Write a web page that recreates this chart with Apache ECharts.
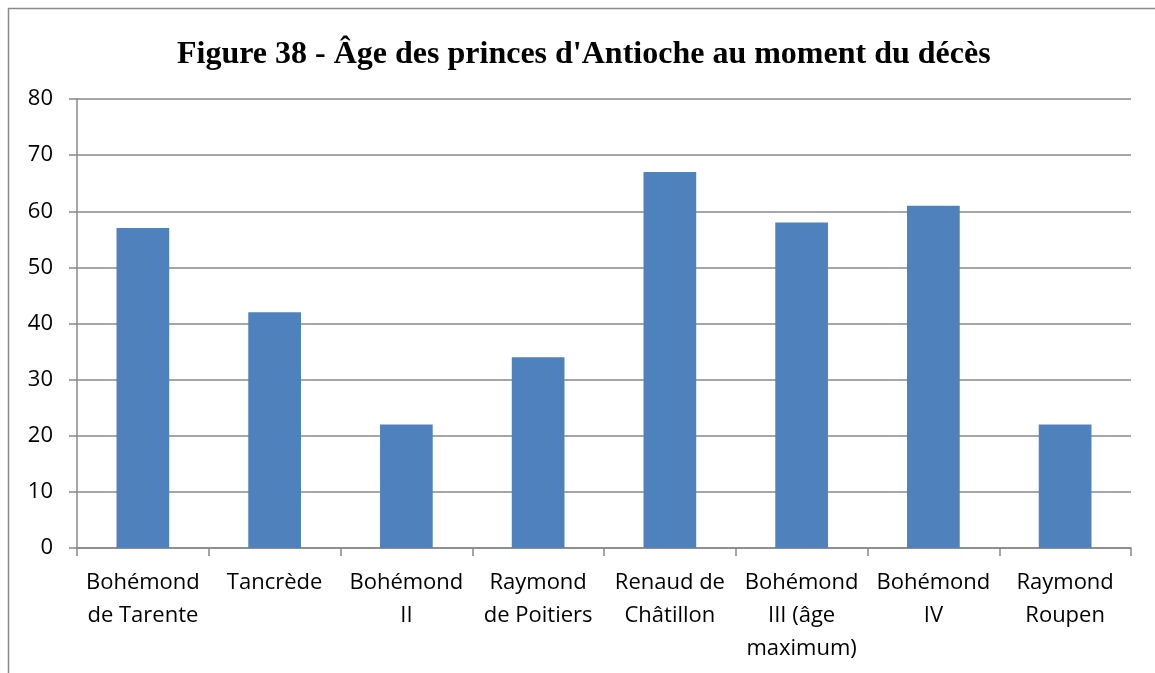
<!DOCTYPE html>
<html>
<head>
<meta charset="utf-8">
<script src="https://cdn.jsdelivr.net/npm/echarts@6/dist/echarts.min.js"></script>
<style>
  html, body { margin: 0; padding: 0; background: #fff; }
  #chart { width: 1155px; height: 673px; }
</style>
</head>
<body>
<div id="chart"></div>
<script>
// Princes of Antioch and their age at death
const princes = [
  'Bohémond\nde Tarente',
  'Tancrède',
  'Bohémond\nII',
  'Raymond\nde Poitiers',
  'Renaud de\nChâtillon',
  'Bohémond\nIII (âge\nmaximum)',
  'Bohémond\nIV',
  'Raymond\nRoupen'
];
const ageAtDeath = [57, 42, 22, 34, 67, 58, 61, 22];
const yTicks = { min: 0, max: 80, interval: 10 };
const titleText = "Figure 38 - Âge des princes d'Antioche au moment du décès";

const chart = echarts.init(document.getElementById('chart'), null, { renderer: 'canvas' });

chart.setOption({
  animation: false,
  backgroundColor: '#ffffff',
  graphic: [{
    type: 'rect',
    shape: { x: 8.5, y: 8.5, width: 1200, height: 800 },
    style: { fill: 'none', stroke: '#8a8a8a', lineWidth: 1.5 },
    silent: true
  }],
  title: {
    text: titleText,
    left: 172,
    top: 34,
    textStyle: {
      fontFamily: 'Liberation Serif',
      fontWeight: 'bold',
      fontSize: 32,
      color: '#000'
    }
  },
  grid: { left: 77, right: 24, top: 99, bottom: 125, containLabel: false },
  xAxis: {
    type: 'category',
    data: princes,
    axisLine: { show: true, lineStyle: { color: '#888', width: 1.5 } },
    axisTick: { show: true, inside: false, length: 8, alignWithLabel: false, lineStyle: { color: '#888', width: 1.5 } },
    axisLabel: {
      interval: 0,
      margin: 18,
      fontFamily: 'Open Sans',
      fontSize: 22,
      lineHeight: 33,
      color: '#000'
    },
    splitLine: { show: false }
  },
  yAxis: {
    type: 'value',
    min: yTicks.min,
    max: yTicks.max,
    interval: yTicks.interval,
    axisLine: { show: true, lineStyle: { color: '#888', width: 1.5 } },
    axisTick: { show: true, inside: false, length: 8, lineStyle: { color: '#888', width: 1.5 } },
    axisLabel: {
      margin: 24,
      fontFamily: 'Open Sans',
      fontSize: 22,
      color: '#000'
    },
    splitLine: { show: true, lineStyle: { color: '#888', width: 1.5 } }
  },
  series: [{
    type: 'bar',
    data: ageAtDeath,
    barWidth: '40%',
    itemStyle: { color: '#4f81bd' }
  }]
});
</script>
</body>
</html>
